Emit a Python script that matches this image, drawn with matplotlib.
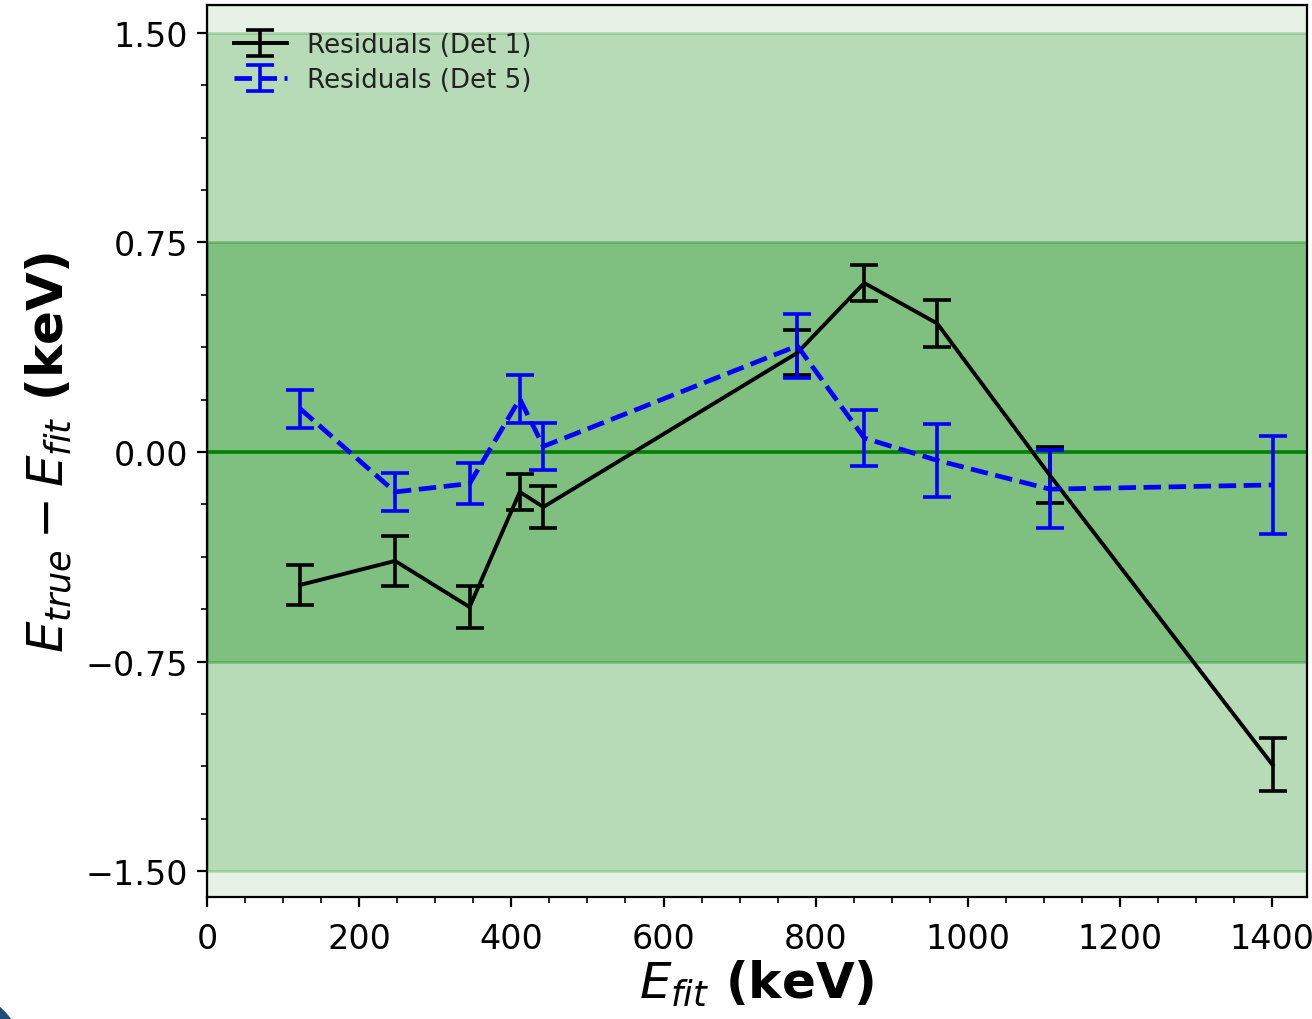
import matplotlib
matplotlib.use('Agg')
import matplotlib.pyplot as plt
import numpy as np
from matplotlib.ticker import AutoMinorLocator
from matplotlib.patches import Circle

# Det 1 residuals
e_fit_1 = [122, 247, 345, 411, 442, 776, 864, 960, 1108, 1401]
res_1 = [-0.476, -0.39, -0.555, -0.143, -0.197, 0.355, 0.605, 0.46, -0.083, -1.12]
err_1 = [0.07, 0.09, 0.075, 0.065, 0.075, 0.08, 0.065, 0.085, 0.10, 0.095]

# Det 5 residuals
e_fit_5 = [122, 247, 345, 411, 442, 776, 864, 960, 1108, 1401]
res_5 = [0.155, -0.143, -0.113, 0.19, 0.02, 0.38, 0.05, -0.03, -0.133, -0.118]
err_5 = [0.068, 0.068, 0.073, 0.085, 0.085, 0.115, 0.10, 0.13, 0.14, 0.175]

fig = plt.figure(figsize=(6.56, 5.1), dpi=200)
ax = fig.add_axes([0.158, 0.1196, 0.838, 0.8745])

ymin, ymax = -1.593, 1.6
ax.axhspan(ymin, ymax, color='green', alpha=0.1)
ax.axhspan(-1.5, 1.5, color='green', alpha=0.2)
ax.axhspan(-0.75, 0.75, color='green', alpha=0.3)
ax.axhline(0, color='green', lw=1.3)

ax.errorbar(e_fit_1, res_1, yerr=err_1, color='black', ls='-', lw=1.4,
            capsize=5, capthick=1.3, elinewidth=1.3, label='Residuals (Det 1)')
ax.errorbar(e_fit_5, res_5, yerr=err_5, color='blue', ls='--', lw=1.7,
            capsize=5, capthick=1.3, elinewidth=1.3, label='Residuals (Det 5)')

ax.set_xlim(0, 1446)
ax.set_ylim(ymin, ymax)
ax.set_yticks([-1.5, -0.75, 0, 0.75, 1.5])
ax.set_xticks(np.arange(0, 1401, 200))
ax.xaxis.set_minor_locator(AutoMinorLocator(4))
ax.yaxis.set_minor_locator(AutoMinorLocator(4))
ax.tick_params(labelsize=12)
ax.tick_params(axis='x', which='major', pad=5.5)

ax.set_xlabel(r'$E_{fit}$ (keV)', fontsize=18, fontweight='bold', labelpad=1)
ax.set_ylabel(r'$E_{true} - E_{fit}$ (keV)', fontsize=18, fontweight='bold', labelpad=4)

leg = ax.legend(loc='upper left', frameon=False, fontsize=9.4, labelspacing=0.35,
                bbox_to_anchor=(0.008, 0.99), borderaxespad=0.3)
for t in leg.get_texts():
    t.set_color('#222222')

fig.patches.append(Circle((-0.3, -0.27), 0.44, transform=fig.dpi_scale_trans,
                          color='#1f4e79', zorder=10))

fig.savefig('out.png', dpi=200)
